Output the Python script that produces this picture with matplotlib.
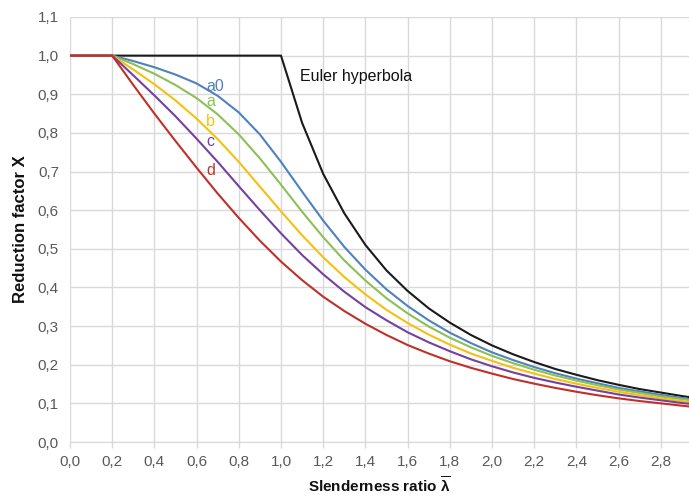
import numpy as np
import matplotlib
matplotlib.use("Agg")
import matplotlib.pyplot as plt

plt.rcParams['font.family'] = ['Liberation Sans', 'DejaVu Sans']
plt.rcParams['mathtext.fontset'] = 'custom'
plt.rcParams['mathtext.bf'] = 'Liberation Sans:bold'
plt.rcParams['mathtext.rm'] = 'Liberation Sans'

# slenderness values (0.1 step)
lam = [0.0, 0.1, 0.2, 0.3, 0.4, 0.5, 0.6, 0.7, 0.8, 0.9, 1.0,
       1.1, 1.2, 1.3, 1.4, 1.5, 1.6, 1.7, 1.8, 1.9, 2.0,
       2.1, 2.2, 2.3, 2.4, 2.5, 2.6, 2.7, 2.8, 2.9, 3.0]

euler = [1.0, 1.0, 1.0, 1.0, 1.0, 1.0, 1.0, 1.0, 1.0, 1.0, 1.0,
         0.826, 0.694, 0.592, 0.510, 0.444, 0.391, 0.346, 0.309, 0.277, 0.250,
         0.227, 0.207, 0.189, 0.174, 0.160, 0.148, 0.137, 0.128, 0.119, 0.111]

curve_a0 = [1.0, 1.0, 1.0, 0.986, 0.970, 0.951, 0.928, 0.896, 0.853, 0.796, 0.725,
            0.648, 0.573, 0.505, 0.446, 0.395, 0.352, 0.315, 0.283, 0.256, 0.232,
            0.212, 0.194, 0.178, 0.164, 0.152, 0.140, 0.131, 0.122, 0.114, 0.106]

curve_a = [1.0, 1.0, 1.0, 0.978, 0.953, 0.924, 0.890, 0.848, 0.796, 0.734, 0.666,
           0.596, 0.530, 0.470, 0.418, 0.372, 0.333, 0.299, 0.270, 0.245, 0.223,
           0.204, 0.187, 0.172, 0.159, 0.147, 0.136, 0.127, 0.118, 0.111, 0.104]

curve_b = [1.0, 1.0, 1.0, 0.964, 0.926, 0.884, 0.837, 0.784, 0.725, 0.661, 0.597,
           0.535, 0.478, 0.427, 0.382, 0.342, 0.308, 0.278, 0.252, 0.229, 0.210,
           0.192, 0.177, 0.163, 0.151, 0.140, 0.130, 0.121, 0.113, 0.106, 0.099]

curve_c = [1.0, 1.0, 1.0, 0.949, 0.897, 0.843, 0.785, 0.725, 0.662, 0.600, 0.540,
           0.484, 0.434, 0.389, 0.349, 0.315, 0.284, 0.258, 0.235, 0.214, 0.196,
           0.180, 0.166, 0.154, 0.143, 0.133, 0.123, 0.115, 0.108, 0.101, 0.095]

curve_d = [1.0, 1.0, 1.0, 0.924, 0.850, 0.779, 0.710, 0.643, 0.580, 0.521, 0.467,
           0.419, 0.376, 0.339, 0.306, 0.277, 0.251, 0.229, 0.209, 0.192, 0.177,
           0.163, 0.151, 0.140, 0.130, 0.121, 0.113, 0.106, 0.100, 0.094, 0.088]

curves = [("a0", curve_a0, "#4f81bd"),
          ("a", curve_a, "#8cc057"),
          ("b", curve_b, "#f5c00f"),
          ("c", curve_c, "#7540a0"),
          ("d", curve_d, "#c0302b")]

# label positions (data coords)
label_pos = {"a0": (0.645, 0.92), "a": (0.645, 0.881), "b": (0.645, 0.829),
             "c": (0.645, 0.778), "d": (0.645, 0.703)}

fig = plt.figure(figsize=(6.89, 4.97), dpi=100)
ax = fig.add_axes([70 / 689, 1 - 442 / 497, 1 - 70 / 689, (442 - 17) / 497])

grid_c = "#d9d9d9"
ax.set_xticks(np.arange(0, 3.01, 0.2))
ax.set_yticks(np.arange(0, 1.11, 0.1))
ax.grid(True, color=grid_c, linewidth=1.0)
ax.set_axisbelow(True)

ax.plot(lam, euler, color="#1a1a1a", lw=1.5, zorder=3)
for name, vals, col in curves:
    ax.plot(lam, vals, color=col, lw=1.5, zorder=3)
    x, y = label_pos[name]
    ax.text(x, y, name, color=col, fontsize=11.5, ha="left", va="center", zorder=4)

ax.text(1.09, 0.945, "Euler hyperbola", color="#111111", fontsize=11.5,
        ha="left", va="center")

ax.set_xlim(0, (689 - 70) / ((281 - 70) / 1.0))
ax.set_ylim(0, 1.1)

ax.set_xticklabels([f"{v:.1f}".replace(".", ",") for v in np.arange(0, 3.01, 0.2)])
ax.set_yticklabels([f"{v:.1f}".replace(".", ",") for v in np.arange(0, 1.11, 0.1)])
ax.tick_params(axis="both", colors=grid_c, labelcolor="#595959", labelsize=11,
               length=4, width=1.0)
ax.tick_params(axis="y", length=0, pad=8)
ax.tick_params(axis="x", pad=5)

for s in ["top", "right", "left"]:
    ax.spines[s].set_visible(False)
ax.spines["bottom"].set_color(grid_c)

ax.set_xlabel(r"Slenderness ratio $\overline{\mathbf{\lambda}}$", fontsize=11,
              fontweight="bold", color="#111111", labelpad=5)
ax.set_ylabel("Reduction factor Χ", fontsize=12, fontweight="bold",
              color="#111111", labelpad=7)

fig.savefig("out.png", dpi=100)
